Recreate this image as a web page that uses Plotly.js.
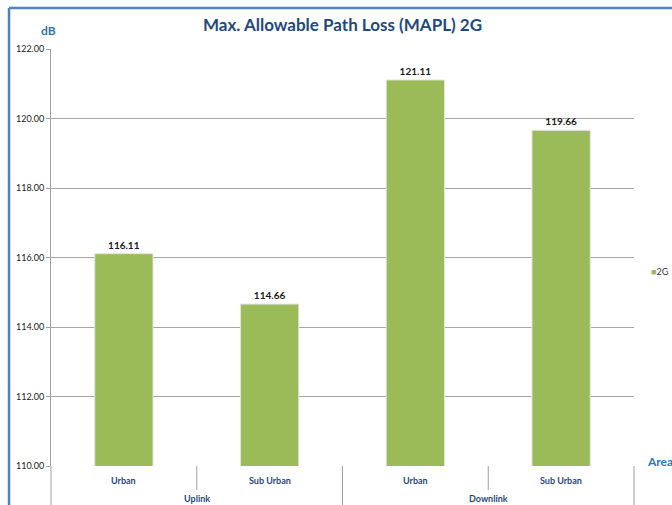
<!DOCTYPE html>
<html><head><meta charset="utf-8">
<script src="https://cdn.plot.ly/plotly-3.0.1.min.js"></script>
<style>html,body{margin:0;padding:0;background:#fff;}#chart{width:672px;height:505px;}</style>
</head><body><div id="chart"></div>
<script>
const groups = ["Uplink", "Uplink", "Downlink", "Downlink"];
const areas = ["Urban", "Sub Urban", "Urban", "Sub Urban"];
const values = [116.11, 114.66, 121.11, 119.66];
const seriesName = "2G";
const yTicks = [110, 112, 114, 116, 118, 120, 122];

const labelColor = "#1f497d";
const fam = "Lato, sans-serif";
const trace = {
  type: "bar",
  x: [groups, areas],
  y: values,
  name: seriesName,
  marker: {color: "#9bbb59", line: {color: "#e4e4e4", width: 1}},
  width: 0.4,
  text: values.map(v => v.toFixed(2)),
  textposition: "outside",
  cliponaxis: false,
  textfont: {family: fam, size: 10, color: "#1a1a1a", weight: "bold"},
  hoverinfo: "skip",
  showlegend: false
};

const n = areas.length;
const rowY = -0.0576, botY = -0.12;
const lineStyle = {color: "#a0a0a0", width: 1};
const shapes = [];
// vertical table lines: full at group edges, short between inner categories
for (let i = 0; i <= n; i++) {
  const isGroupEdge = i === 0 || i === n || groups[i] !== groups[i - 1];
  shapes.push({type:"line", xref:"paper", yref:"paper", x0:i/n, x1:i/n, y0:0, y1:isGroupEdge ? botY : rowY, line:lineStyle});
}
// outer blue frame
shapes.push({type:"line", xref:"paper", yref:"paper", x0:-0.0720, x1:1.2, y0:1.0983, y1:1.0983, line:{color:"#4f81bd", width:2.5}});
shapes.push({type:"line", xref:"paper", yref:"paper", x0:-0.0720, x1:-0.0720, y0:1.0983, y1:-0.2, line:{color:"#4f81bd", width:2.5}});

const annotations = [
  {text:"<b>dB</b>", xref:"paper", yref:"paper", x:-0.0051, y:1.0432, xanchor:"center", yanchor:"middle", showarrow:false,
   font:{family:fam, size:12, color:"#2e75b6"}},
  {text:"<b>Area</b>", xref:"paper", yref:"paper", x:1.0189, y:0.0096, xanchor:"left", yanchor:"middle", showarrow:false,
   font:{family:fam, size:12, color:"#2e75b6"}},
  {text:'<span style="color:#9bbb59">■</span>' + seriesName, xref:"paper", yref:"paper", x:1.0257, y:0.4676, xanchor:"left", yanchor:"middle",
   showarrow:false, font:{family:fam, size:9, color:"#333"}}
];
// category labels (inner row)
areas.forEach((a, i) => annotations.push({text:"<b>" + a + "</b>", xref:"paper", yref:"paper", x:(i + 0.5)/n, y:-0.0336,
  xanchor:"center", yanchor:"middle", showarrow:false, font:{family:fam, size:9, color:labelColor}}));
// group labels (outer row)
const uniqueGroups = [...new Set(groups)];
uniqueGroups.forEach(g => {
  const idx = groups.map((v, i) => v === g ? i : -1).filter(i => i >= 0);
  const center = (idx[0] + idx[idx.length - 1] + 1) / 2 / n;
  annotations.push({text:"<b>" + g + "</b>", xref:"paper", yref:"paper", x:center, y:-0.0791,
    xanchor:"center", yanchor:"middle", showarrow:false, font:{family:fam, size:9, color:labelColor}});
});

const layout = {
  width: 672, height: 505,
  margin: {l: 51, r: 38, t: 49, b: 39, autoexpand: false},
  paper_bgcolor: "#ffffff", plot_bgcolor: "#ffffff",
  title: {text: "<b>Max. Allowable Path Loss (MAPL) 2G</b>", x: 0.5, xref: "paper", y: 0.95, yref: "container", yanchor: "middle",
          font: {family: fam, size: 17, color: labelColor}},
  bargap: 0.6,
  showlegend: false,
  xaxis: {type: "multicategory", showdividers: false, showline: false, ticks: "", showgrid: false, showticklabels: false},
  yaxis: {range: [110, 122], tickvals: yTicks, tickformat: ".2f", showgrid: true, gridcolor: "#a6a6a6", gridwidth: 1,
          showline: true, linecolor: "#a0a0a0", ticks: "outside", ticklen: 4, tickcolor: "#a0a0a0",
          tickfont: {family: fam, size: 9, color: "#222"}, zeroline: false, fixedrange: true},
  shapes: shapes,
  annotations: annotations
};

Plotly.newPlot("chart", [trace], layout, {displayModeBar: false, staticPlot: true});
</script></body></html>
